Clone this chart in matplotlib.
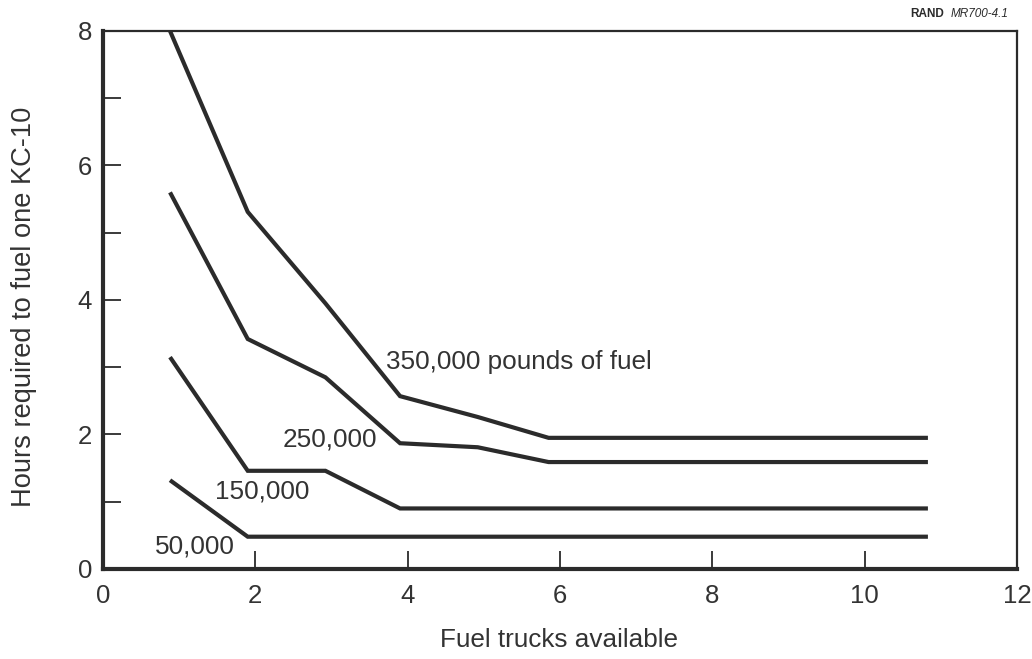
import matplotlib.pyplot as plt

# Fuel trucks available (as drawn, slightly left of the integer marks)
trucks = [0.88, 1.9, 2.92, 3.9, 4.92, 5.85, 10.83]

# Hours required per fuel load
hours_350k = [8.0, 5.31, 3.95, 2.57, 2.26, 1.95, 1.95]
hours_250k = [5.6, 3.42, 2.85, 1.87, 1.81, 1.59, 1.59]
hours_150k = [3.15, 1.46, 1.46, 0.9, 0.9, 0.9, 0.9]
hours_50k = [1.32, 0.48, 0.48, 0.48, 0.48, 0.48, 0.48]

# Curve labels: text, x, y
curve_labels = [
    ("350,000 pounds of fuel", 3.71, 3.08),
    ("250,000", 2.36, 1.92),
    ("150,000", 1.47, 1.15),
    ("50,000", 0.68, 0.33),
]

INK = "#2b2b2b"
TEXT = "#333333"

plt.rcParams["font.family"] = ["Liberation Sans", "DejaVu Sans"]

fig = plt.figure(figsize=(10.32, 6.59), dpi=100)
ax = fig.add_axes([0.0998, 0.1366, 0.8857, 0.8164])

for series in [hours_350k, hours_250k, hours_150k, hours_50k]:
    ax.plot(trucks, series, color=INK, linewidth=3, solid_capstyle="butt",
            solid_joinstyle="miter")

for text, x, y in curve_labels:
    ax.text(x, y, text, fontsize=18.8, color=TEXT, ha="left", va="center")

ax.set_xlim(0, 12)
ax.set_ylim(0, 8)
ax.set_xticks(range(0, 13, 2))
ax.set_yticks(range(0, 9))
ax.set_yticklabels([str(v) if v % 2 == 0 else "" for v in range(0, 9)])

ax.tick_params(axis="both", direction="in", length=13, width=1.3,
               color=INK, labelsize=18.5, labelcolor=TEXT)
ax.tick_params(axis="x", pad=11)
ax.tick_params(axis="y", pad=8)
ax.tick_params(axis="x", which="both", top=False)
ax.tick_params(axis="y", which="both", right=False)

for side, width in [("left", 3), ("bottom", 3), ("top", 1.6), ("right", 1.6)]:
    ax.spines[side].set_linewidth(width)
    ax.spines[side].set_color(INK)

ax.set_xlabel("Fuel trucks available", fontsize=18.8, color=TEXT)
ax.set_ylabel("Hours required to fuel one KC-10", fontsize=19.6, color=TEXT)
ax.xaxis.set_label_coords(0.499, -0.11)
ax.yaxis.set_label_coords(-0.072, 0.487)

# Source tag top right
fig.text(0.882, 0.978, "RAND", fontsize=8.5, fontweight="bold", color=INK,
         ha="left", va="center")
fig.text(0.9215, 0.978, "MR700-4.1", fontsize=8.5, style="italic", color=INK,
         ha="left", va="center")

fig.savefig("out.png", dpi=100)
